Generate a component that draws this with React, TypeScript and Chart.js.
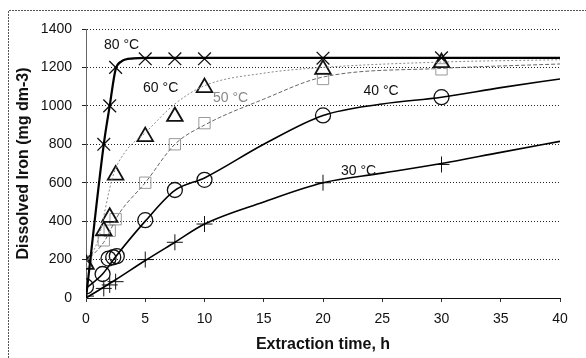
import React, { useEffect, useRef } from "react";
import { Chart, registerables } from "chart.js";
Chart.register(...registerables);

// Measured points (markers)
const t80 = [0, 1.5, 2, 2.5, 5, 7.5, 10, 20, 30];
const y80 = [200, 800, 1000, 1200, 1245, 1245, 1245, 1248, 1250];
const t60 = [0, 1.5, 2, 2.5, 5, 7.5, 10, 20, 30];
const y60 = [175, 350, 420, 640, 840, 945, 1095, 1190, 1225];
const t50 = [0, 1.5, 2, 2.5, 5, 7.5, 10, 20, 30];
const y50 = [190, 300, 350, 410, 600, 800, 910, 1140, 1190];
const t40 = [0, 1.4, 1.9, 2.3, 2.6, 5, 7.5, 10, 20, 30];
const y40 = [60, 125, 205, 212, 218, 405, 562, 615, 950, 1045];
const t30 = [0, 1.5, 2, 2.5, 5, 7.5, 10, 20, 30];
const y30 = [10, 50, 68, 85, 200, 290, 385, 600, 695];

// Fitted curves
const fitT80 = [0, 1.5, 2, 2.5, 3, 4, 5, 40];
const fitY80 = [0, 800, 1000, 1190, 1232, 1247, 1250, 1250];
const fitT60 = [0, 1, 2.3, 3.3, 5, 7.5, 10, 15, 20, 30, 40];
const fitY60 = [180, 300, 640, 760, 860, 1010, 1105, 1170, 1200, 1228, 1240];
const fitT50 = [0, 1.5, 2.8, 5, 7.5, 10, 15, 20, 30, 40];
const fitY50 = [190, 290, 440, 600, 800, 900, 1035, 1150, 1195, 1218];
const fitT40 = [0, 1.4, 2.5, 5, 7.5, 10, 15, 20, 25, 30, 35, 40];
const fitY40 = [50, 125, 215, 400, 560, 625, 800, 950, 1010, 1045, 1095, 1140];
const fitT30 = [0, 2.5, 5, 7.5, 10, 15, 20, 25, 30, 35, 40];
const fitY30 = [0, 95, 195, 290, 385, 500, 600, 650, 700, 758, 815];

// Curve labels
const labelText = ["80 °C", "60 °C", "50 °C", "40 °C", "30 °C"];
const labelX = [3.0, 6.3, 12.2, 24.9, 23.0];
const labelY = [1317, 1093, 1041, 1078, 661];
const labelColor = ["#111", "#111", "#888", "#111", "#111"];

const xMin = 0, xMax = 40, xStep = 5;
const yMin = 0, yMax = 1400, yStep = 200;

const FONT = "'Liberation Sans', Arial, sans-serif";

const pts = (t: number[], y: number[]) => t.map((v, i) => ({ x: v, y: y[i] }));

const extras = {
  id: "extras",
  afterDraw(chart: any) {
    const { ctx, scales } = chart;
    ctx.save();
    // outer frame
    ctx.strokeStyle = "#555";
    ctx.lineWidth = 1;
    ctx.setLineDash([2, 1]);
    ctx.beginPath();
    ctx.moveTo(8.5, 358);
    ctx.lineTo(8.5, 10.5);
    ctx.lineTo(586, 10.5);
    ctx.stroke();
    ctx.setLineDash([]);
    // labels
    ctx.font = `14px ${FONT}`;
    ctx.textAlign = "center";
    ctx.textBaseline = "middle";
    labelText.forEach((txt, i) => {
      ctx.fillStyle = labelColor[i];
      ctx.fillText(txt, scales.x.getPixelForValue(labelX[i]), scales.y.getPixelForValue(labelY[i]));
    });
    ctx.restore();
  },
};

export default function App() {
  const ref = useRef<HTMLCanvasElement>(null);
  useEffect(() => {
    const chart = new Chart(ref.current!, {
      type: "scatter",
      data: {
        datasets: [
          { data: pts(fitT80, fitY80), showLine: true, borderColor: "#000", borderWidth: 2.2, pointRadius: 0, cubicInterpolationMode: "monotone" },
          { data: pts(fitT60, fitY60), showLine: true, borderColor: "#888", borderWidth: 1, borderDash: [2, 2], pointRadius: 0, cubicInterpolationMode: "monotone" },
          { data: pts(fitT50, fitY50), showLine: true, borderColor: "#666", borderWidth: 1, borderDash: [4, 2], pointRadius: 0, cubicInterpolationMode: "monotone" },
          { data: pts(fitT40, fitY40), showLine: true, borderColor: "#000", borderWidth: 1.6, pointRadius: 0, cubicInterpolationMode: "monotone" },
          { data: pts(fitT30, fitY30), showLine: true, borderColor: "#000", borderWidth: 1.6, pointRadius: 0, cubicInterpolationMode: "monotone" },
          { data: pts(t80, y80), pointStyle: "crossRot", pointRadius: 9, pointBorderColor: "#111", pointBorderWidth: 1.3, backgroundColor: "transparent" },
          { data: pts(t60, y60), pointStyle: "triangle", pointRadius: 9, pointBorderColor: "#111", pointBorderWidth: 1.8, backgroundColor: "transparent" },
          { data: pts(t50, y50), pointStyle: "rect", pointRadius: 8, pointBorderColor: "#999", pointBorderWidth: 1, backgroundColor: "transparent" },
          { data: pts(t40, y40), pointStyle: "circle", pointRadius: 7.5, pointBorderColor: "#111", pointBorderWidth: 1.3, backgroundColor: "transparent" },
          { data: pts(t30, y30), pointStyle: "cross", pointRadius: 8, pointBorderColor: "#111", pointBorderWidth: 1, backgroundColor: "transparent" },
        ],
      },
      options: {
        animation: false,
        responsive: false,
        layout: { padding: { left: 0, top: 29, right: 26, bottom: 0 } },
        plugins: { legend: { display: false }, tooltip: { enabled: false } },
        scales: {
          x: {
            type: "linear",
            min: xMin,
            max: xMax,
            afterFit: (s: any) => { s.height = 60; },
            ticks: { stepSize: xStep, color: "#111", font: { family: FONT, size: 14 }, padding: 9, callback: (v: any) => String(v) },
            grid: { drawOnChartArea: false, drawTicks: true, tickLength: 4, color: "#333" },
            border: { display: true, color: "#111", dash: [2, 1], width: 1 },
            title: { display: true, text: "Extraction time, h", color: "#111", font: { family: FONT, size: 16, weight: "bold" }, padding: { top: 0, bottom: 4 } },
          },
          y: {
            type: "linear",
            min: yMin,
            max: yMax,
            afterFit: (s: any) => { s.width = 86; },
            ticks: { stepSize: yStep, color: "#111", font: { family: FONT, size: 14 }, padding: 10, callback: (v: any) => String(v) },
            grid: {
              drawTicks: true,
              tickLength: 4,
              color: (c: any) => (c.tick && c.tick.value === 0 ? "rgba(0,0,0,0)" : "#222"),
              lineWidth: 1,
            },
            border: { display: true, color: "#666", dash: [1, 2], width: 1 },
            title: { display: true, text: "Dissolved Iron (mg dm-3)", color: "#111", font: { family: FONT, size: 16, weight: "bold" }, padding: { top: 14, bottom: 0 } },
          },
        },
      },
      plugins: [extras],
    } as any);
    return () => chart.destroy();
  }, []);
  return (
    <div style={{ position: "fixed", left: 0, top: 0, width: 586, height: 358, background: "#fff" }}>
      <canvas ref={ref} width={586} height={358} />
    </div>
  );
}
